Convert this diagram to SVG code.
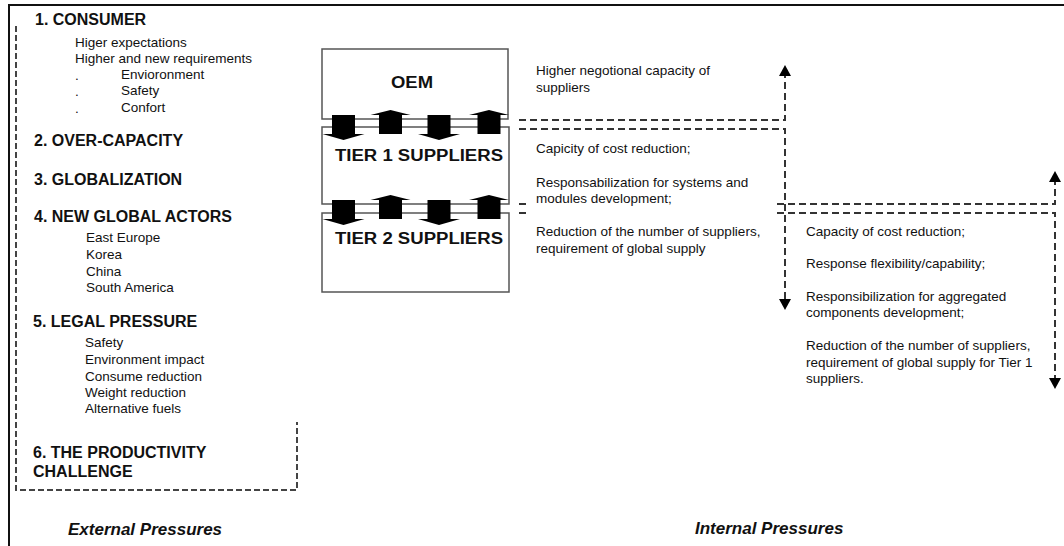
<svg xmlns="http://www.w3.org/2000/svg" width="1064" height="546" viewBox="0 0 1064 546">
  <style>
    text { font-family: "Liberation Sans", Arial, sans-serif; fill: #111; }
    .h { font-size: 16px; font-weight: bold; }
    .b { font-size: 13.5px; }
    .tier { font-size: 16px; font-weight: bold; }
    .foot { font-size: 17px; font-weight: bold; font-style: italic; }
    .box { fill: #fff; stroke: #555; stroke-width: 1.5; }
    .dash { fill: none; stroke: #333; stroke-width: 2; stroke-dasharray: 7 4; }
    .dashL { fill: none; stroke: #444; stroke-width: 2; stroke-dasharray: 6 3; }
    .blk { fill: #000; }
  </style>
  <defs>
    <marker id="tip" viewBox="0 0 11 12" refX="0" refY="6" markerWidth="11" markerHeight="12" markerUnits="userSpaceOnUse" orient="auto">
      <path d="M0,0 L11,6 L0,12 Z" fill="#000"/>
    </marker>
    <!-- block arrows between tiers -->
    <polygon id="down" points="-11.5,0 11.5,0 11.5,19 21,19 0,25 -21,19 -11.5,19"/>
    <polygon id="up" points="-11.5,24 11.5,24 11.5,5 20,5 0,0 -20,5 -11.5,5"/>
  </defs>

  <rect width="1064" height="546" fill="#fff"/>

  <!-- outer frame -->
  <path d="M9,546 V5 H1064" fill="none" stroke="#111" stroke-width="2"/>

  <!-- external pressures panel -->
  <g id="external">
    <path class="dashL" d="M16,26 V490 H297 V422"/>
    <text class="h" x="35" y="25">1. CONSUMER</text>
    <text class="b" x="75" y="47">Higer expectations</text>
    <text class="b" x="75" y="63">Higher and new requirements</text>
    <text class="b" x="75" y="80">.</text>
    <text class="b" x="121" y="79">Envioronment</text>
    <text class="b" x="75" y="96">.</text>
    <text class="b" x="121" y="95">Safety</text>
    <text class="b" x="75" y="113">.</text>
    <text class="b" x="121" y="112">Confort</text>
    <text class="h" x="34" y="146">2. OVER-CAPACITY</text>
    <text class="h" x="34" y="185">3. GLOBALIZATION</text>
    <text class="h" x="34" y="222">4. NEW GLOBAL ACTORS</text>
    <text class="b" x="86" y="242">East Europe</text>
    <text class="b" x="86" y="259">Korea</text>
    <text class="b" x="86" y="276">China</text>
    <text class="b" x="86" y="292">South America</text>
    <text class="h" x="33" y="327">5. LEGAL PRESSURE</text>
    <text class="b" x="85" y="347">Safety</text>
    <text class="b" x="85" y="364">Environment impact</text>
    <text class="b" x="85" y="381">Consume reduction</text>
    <text class="b" x="85" y="397">Weight reduction</text>
    <text class="b" x="85" y="413">Alternative fuels</text>
    <text class="h" x="33" y="458">6. THE PRODUCTIVITY</text>
    <text class="h" x="33" y="477">CHALLENGE</text>
  </g>

  <!-- supply chain tiers -->
  <g id="oem">
    <rect class="box" x="322" y="49" width="186" height="70"/>
    <text class="tier" x="391" y="88" textLength="42" lengthAdjust="spacingAndGlyphs">OEM</text>
  </g>
  <g id="tier1">
    <rect class="box" x="322" y="127" width="187" height="77"/>
    <text class="tier" x="335" y="161" textLength="168" lengthAdjust="spacingAndGlyphs">TIER 1 SUPPLIERS</text>
  </g>
  <g id="tier2">
    <rect class="box" x="322" y="213" width="187" height="79"/>
    <text class="tier" x="335" y="244" textLength="168" lengthAdjust="spacingAndGlyphs">TIER 2 SUPPLIERS</text>
  </g>

  <!-- exchanges between tiers -->
  <g id="flows" class="blk">
    <use href="#down" x="343.5" y="115"/>
    <use href="#up" x="390.5" y="110"/>
    <use href="#down" x="439" y="115"/>
    <use href="#up" x="489" y="110"/>
    <use href="#down" x="343.5" y="200"/>
    <use href="#up" x="390.5" y="195"/>
    <use href="#down" x="439" y="200"/>
    <use href="#up" x="489" y="195"/>
  </g>

  <!-- dashed connectors -->
  <g id="connectors">
    <path class="dash" d="M519,120 H785 V76" marker-end="url(#tip)"/>
    <path class="dash" d="M519,129 H785 V299" marker-end="url(#tip)"/>
    <path class="dash" d="M519,204 H530"/>
    <path class="dash" d="M519,213 H530"/>
    <path class="dash" d="M777,204 H1055 V182" marker-end="url(#tip)"/>
    <path class="dash" d="M777,213 H1055 V378" marker-end="url(#tip)"/>
  </g>

  <!-- tier 1 notes -->
  <g id="notes-tier1">
    <text class="b" x="536" y="75">Higher negotional capacity of</text>
    <text class="b" x="536" y="92">suppliers</text>
    <text class="b" x="536" y="153">Capicity of cost reduction;</text>
    <text class="b" x="536" y="187">Responsabilization for systems and</text>
    <text class="b" x="536" y="203">modules development;</text>
    <text class="b" x="536" y="236">Reduction of the number of suppliers,</text>
    <text class="b" x="536" y="253">requirement of global supply</text>
  </g>

  <!-- tier 2 notes -->
  <g id="notes-tier2">
    <text class="b" x="806" y="236">Capacity of cost reduction;</text>
    <text class="b" x="806" y="268">Response flexibility/capability;</text>
    <text class="b" x="806" y="301">Responsibilization for aggregated</text>
    <text class="b" x="806" y="317">components development;</text>
    <text class="b" x="806" y="350">Reduction of the number of suppliers,</text>
    <text class="b" x="806" y="367">requirement of global supply for Tier 1</text>
    <text class="b" x="806" y="383">suppliers.</text>
  </g>

  <text class="foot" x="68" y="535">External Pressures</text>
  <text class="foot" x="695" y="534">Internal Pressures</text>
</svg>
